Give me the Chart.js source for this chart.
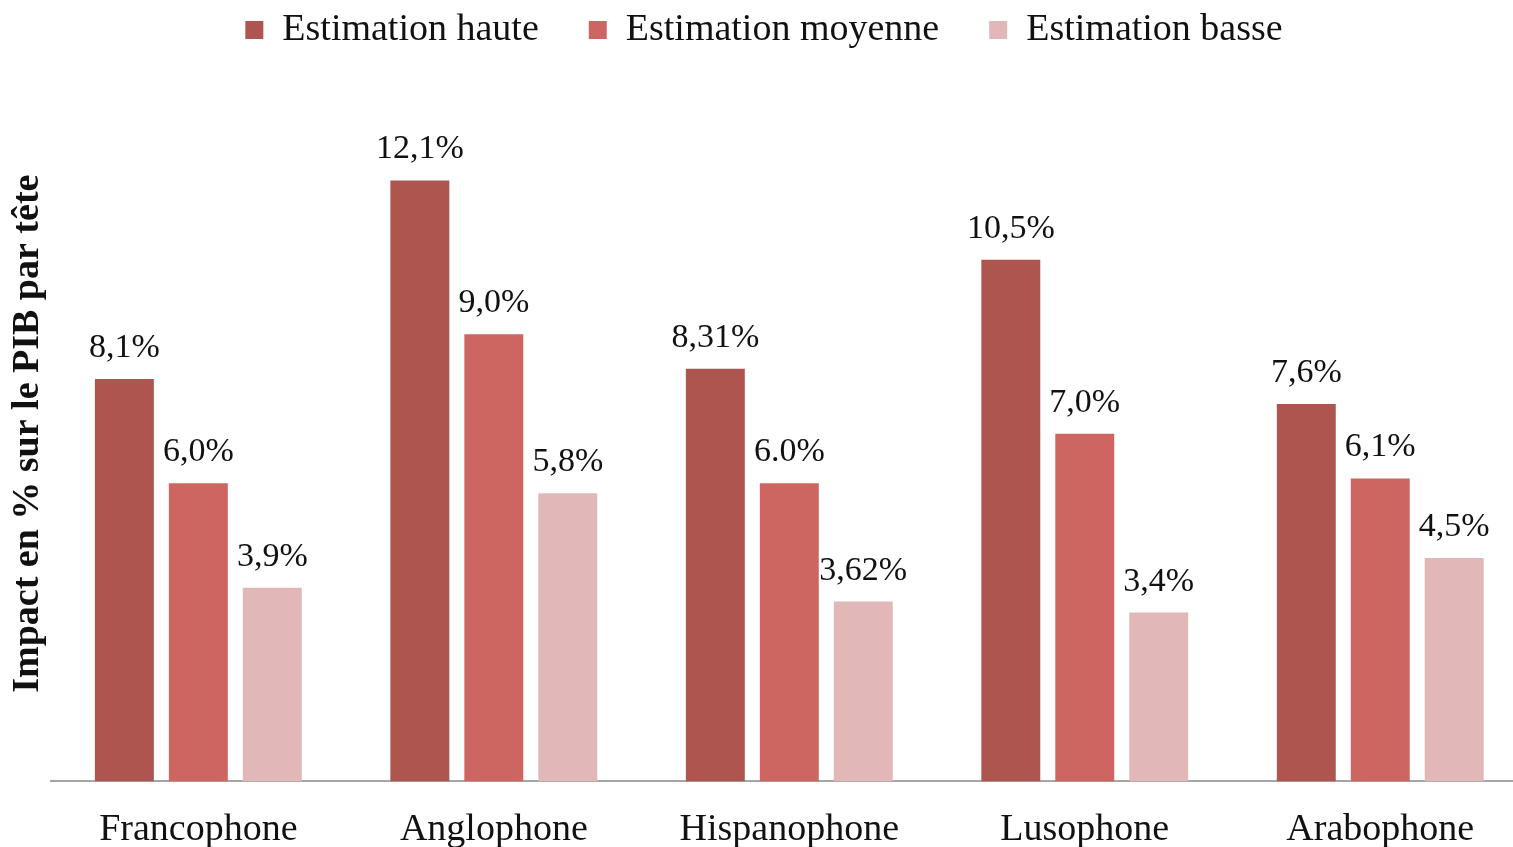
<!DOCTYPE html>
<html><head><meta charset="utf-8">
<script src="https://cdn.jsdelivr.net/npm/chart.js@4"></script>
<style>
html,body{margin:0;padding:0;background:#fff;overflow:hidden;}
#wrap{width:1530px;height:847px;position:relative;}
</style></head>
<body><div id="wrap"><canvas id="c"></canvas></div>
<script>
const categories = ["Francophone","Anglophone","Hispanophone","Lusophone","Arabophone"];
const seriesNames = ["Estimation haute","Estimation moyenne","Estimation basse"];
const haute = [8.1, 12.1, 8.31, 10.5, 7.6];
const moyenne = [6.0, 9.0, 6.0, 7.0, 6.1];
const basse = [3.9, 5.8, 3.62, 3.4, 4.5];
const labelsHaute = ["8,1%","12,1%","8,31%","10,5%","7,6%"];
const labelsMoyenne = ["6,0%","9,0%","6.0%","7,0%","6,1%"];
const labelsBasse = ["3,9%","5,8%","3,62%","3,4%","4,5%"];
const colors = ["#AE5550","#CD6661","#E1B8B7"];
const FONT = "'Liberation Serif', 'Times New Roman', serif";

const valueLabels = [labelsHaute, labelsMoyenne, labelsBasse];
const labelPlugin = {
  id: 'valueLabels',
  afterDatasetsDraw(chart) {
    const ctx = chart.ctx;
    ctx.save();
    ctx.font = "34px " + FONT;
    ctx.fillStyle = "#111";
    ctx.textAlign = "center";
    ctx.textBaseline = "alphabetic";
    chart.data.datasets.forEach((ds, di) => {
      const meta = chart.getDatasetMeta(di);
      meta.data.forEach((el, i) => {
        ctx.fillText(valueLabels[di][i], el.x, el.y - 22);
      });
    });
    ctx.restore();
  }
};
const legendGap = {
  id: 'legendGap',
  beforeInit(chart) {
    const lg = chart.legend;
    if (!lg) return;
    const fit = lg.fit;
    lg.fit = function() { fit.call(this); this.height += 27; };
  }
};

new Chart(document.getElementById('c'), {
  type: 'bar',
  data: {
    labels: categories,
    datasets: [
      {label: seriesNames[0], data: haute, backgroundColor: colors[0]},
      {label: seriesNames[1], data: moyenne, backgroundColor: colors[1]},
      {label: seriesNames[2], data: basse, backgroundColor: colors[2]}
    ]
  },
  options: {
    responsive: true,
    maintainAspectRatio: false,
    animation: false,
    layout: {padding: {top: -39, right: 2, bottom: -32, left: 0}},
    datasets: {bar: {barPercentage: 0.797, categoryPercentage: 0.751}},
    plugins: {
      legend: {
        position: 'top',
        labels: {
          font: {family: FONT, size: 38},
          color: '#111',
          boxWidth: 18,
          boxHeight: 18,
          padding: 50
        }
      },
      tooltip: {enabled: false}
    },
    scales: {
      x: {
        grid: {display: false, drawTicks: false},
        border: {display: true, color: '#A6A6A6', width: 2},
        ticks: {font: {family: FONT, size: 38}, color: '#111', padding: 26}
      },
      y: {
        min: 0, max: 14,
        grid: {display: false, drawTicks: false},
        border: {display: false},
        ticks: {display: false},
        title: {
          display: true,
          text: "Impact en % sur le PIB par tête",
          font: {family: FONT, size: 38, weight: 'bold'},
          color: '#111',
          padding: {top: 5, bottom: 0}
        }
      }
    }
  },
  plugins: [legendGap, labelPlugin]
});
</script></body></html>
